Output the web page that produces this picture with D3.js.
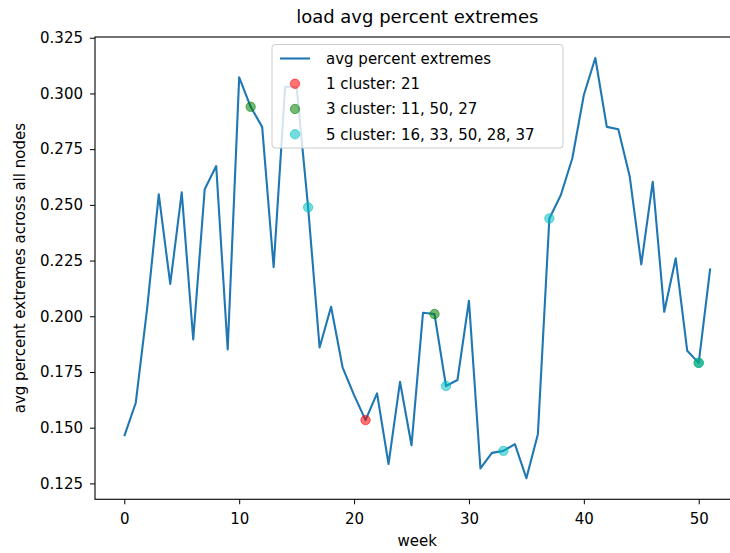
<!DOCTYPE html>
<html>
<head>
<meta charset="utf-8">
<script src="https://cdn.jsdelivr.net/npm/d3@7/dist/d3.min.js"></script>
<style>
  html, body { margin: 0; padding: 0; background: #fff; }
  svg { display: block; font-family: "DejaVu Sans", sans-serif; }
</style>
</head>
<body>
<svg id="chart" width="730" height="553"></svg>
<script>
const weeks = [0,1,2,3,4,5,6,7,8,9,10,11,12,13,14,15,16,17,18,19,20,21,22,23,24,25,26,27,28,29,30,31,32,33,34,35,36,37,38,39,40,41,42,43,44,45,46,47,48,49,50,51];
const avgPercentExtremes = [
  0.1462,0.1612,0.2040,0.2547,0.2145,0.2556,0.1896,0.2570,0.2674,0.1851,
  0.3072,0.2940,0.2850,0.2220,0.3030,0.3030,0.2489,0.1860,0.2043,0.1771,
  0.1646,0.1534,0.1654,0.1337,0.1706,0.1421,0.2016,0.2010,0.1687,0.1714,
  0.2070,0.1317,0.1387,0.1396,0.1426,0.1273,0.1471,0.2439,0.2544,0.2709,
  0.2993,0.3159,0.2850,0.2839,0.2626,0.2233,0.2604,0.2020,0.2260,0.1845,
  0.1791,0.2215
];
const cluster1 = [21];
const cluster3 = [11, 50, 27];
const cluster5 = [16, 33, 50, 28, 37];
const clusterNames = ["1 cluster", "3 cluster", "5 cluster"];
const clusterColors = ["#ff0000", "#008000", "#00bfbf"];
const xTicks = [0, 10, 20, 30, 40, 50];
const yTicks = [0.125, 0.150, 0.175, 0.200, 0.225, 0.250, 0.275, 0.300, 0.325];
const titleText = "load avg percent extremes";
const xLabel = "week";
const yLabel = "avg percent extremes across all nodes";
const seriesName = "avg percent extremes";

const clusters = [cluster1, cluster3, cluster5];
const svg = d3.select("#chart");
const L = 95, R = 739.5, T = 37, B = 499.3;

const xExt = d3.extent(weeks), xPad = (xExt[1] - xExt[0]) * 0.05;
const yExt = d3.extent(avgPercentExtremes), yPad = (yExt[1] - yExt[0]) * 0.05;
const x = d3.scaleLinear().domain([xExt[0] - xPad, xExt[1] + xPad]).range([L, R]);
const y = d3.scaleLinear().domain([yExt[0] - yPad, yExt[1] + yPad]).range([B, T]);

const lineColor = "#1f77b4";
const mR = 4.7, mOp = 0.55;

// line
svg.append("path")
  .datum(weeks.map((w, i) => [w, avgPercentExtremes[i]]))
  .attr("fill", "none")
  .attr("stroke", lineColor)
  .attr("stroke-width", 2.1)
  .attr("stroke-linejoin", "round")
  .attr("d", d3.line().x(d => x(d[0])).y(d => y(d[1])));

// markers
clusters.forEach((c, ci) => {
  svg.append("g").selectAll("circle").data(c).join("circle")
    .attr("cx", d => x(d))
    .attr("cy", d => y(avgPercentExtremes[d]))
    .attr("r", mR)
    .attr("fill", clusterColors[ci])
    .attr("fill-opacity", mOp)
    .attr("stroke", clusterColors[ci])
    .attr("stroke-opacity", mOp)
    .attr("stroke-width", 1);
});

// axes
const xAxis = svg.append("g").attr("transform", `translate(0,${B})`)
  .call(d3.axisBottom(x).tickValues(xTicks).tickFormat(d3.format("d")).tickSize(5).tickPadding(9.5));
const yAxis = svg.append("g").attr("transform", `translate(${L},0)`)
  .call(d3.axisLeft(y).tickValues(yTicks).tickFormat(d3.format(".3f")).tickSize(5).tickPadding(7));
[xAxis, yAxis].forEach(a => {
  a.select(".domain").remove();
  a.selectAll("text").attr("font-size", 15).attr("fill", "#000").attr("font-family", "DejaVu Sans");
  a.selectAll("line").attr("stroke", "#000").attr("stroke-width", 1);
});

// frame
svg.append("rect")
  .attr("x", L).attr("y", T).attr("width", R - L).attr("height", B - T)
  .attr("fill", "none").attr("stroke", "#000").attr("stroke-width", 1.1);

// title and labels
svg.append("text").attr("x", (L + R) / 2).attr("y", 23).attr("text-anchor", "middle")
  .attr("font-size", 18).attr("fill", "#000").text(titleText);
svg.append("text").attr("x", (L + R) / 2).attr("y", 546).attr("text-anchor", "middle")
  .attr("font-size", 15).attr("fill", "#000").text(xLabel);
svg.append("text").attr("transform", `translate(24.5,${(T + B) / 2}) rotate(-90)`)
  .attr("text-anchor", "middle").attr("font-size", 15).attr("fill", "#000").text(yLabel);

// legend
const lg = svg.append("g");
lg.append("rect").attr("x", 272).attr("y", 44.5).attr("width", 291).attr("height", 103.5)
  .attr("rx", 3).attr("fill", "#fff").attr("fill-opacity", 0.8)
  .attr("stroke", "#cccccc").attr("stroke-width", 1);
const rowY = [58.5, 83.8, 109, 134.3];
const hx0 = 280, hx1 = 310, tx = 326;
lg.append("line").attr("x1", hx0).attr("x2", hx1).attr("y1", rowY[0]).attr("y2", rowY[0])
  .attr("stroke", lineColor).attr("stroke-width", 2.1);
lg.append("text").attr("x", tx).attr("y", rowY[0]).attr("dy", "0.36em")
  .attr("font-size", 15).attr("fill", "#000").text(seriesName);
clusters.forEach((c, ci) => {
  const yy = rowY[ci + 1];
  lg.append("circle").attr("cx", (hx0 + hx1) / 2).attr("cy", yy).attr("r", mR)
    .attr("fill", clusterColors[ci]).attr("fill-opacity", mOp)
    .attr("stroke", clusterColors[ci]).attr("stroke-opacity", mOp).attr("stroke-width", 1);
  lg.append("text").attr("x", tx).attr("y", yy).attr("dy", "0.36em")
    .attr("font-size", 15).attr("fill", "#000")
    .text(`${clusterNames[ci]}: ${c.join(", ")}`);
});
</script>
</body>
</html>
